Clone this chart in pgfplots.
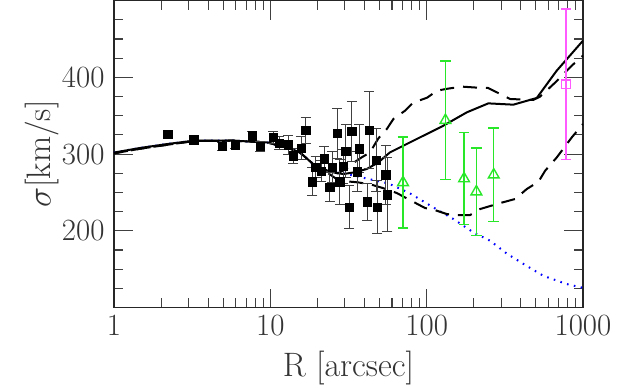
\documentclass[border=0pt]{standalone}
\usepackage{fix-cm}
\usepackage{pgfplots}
\pgfplotsset{compat=1.18}

\definecolor{ptgreen}{RGB}{40,230,40}
\definecolor{ptmag}{RGB}{255,90,255}
\definecolor{ptblue}{RGB}{0,0,255}

% black squares: R, sigma, error
\pgfplotstableread{
x     y     e
2.21  326   4
3.24  319   4
4.93  310   5
5.94  312   4
7.67  324   6
8.63  310   6
10.4  322   8
11.4  314.5 9
13.0  312   12
14.0  298   10
15.7  308   15
16.8  331   17
18.6  264   18
19.5  283   14
21.1  278   14
22.2  294   16
24.0  257   19
24.9  283   20
26.7  327   33
27.7  264   29
29.2  284   22
30.4  304   34
31.9  231   28
33.2  330   39
36.0  277   26
37.0  307   31
41.6  238   24
42.8  331   50
47.7  292   41
48.4  231   35
54.8  273   38
56.1  247   48
}\sqdata

\pgfplotstableread{
x     y     e
70.6  263   59
131.8 344   77
173.5 268   60
208   251   57
268.6 273   61
}\gcdata

\begin{document}
\begin{tikzpicture}
\begin{axis}[
    scale only axis,
    width=469bp, height=307bp,
    xmode=log, log basis x=10,
    xmin=1, xmax=1000,
    ymin=100, ymax=500,
    xtick={1,10,100,1000},
    xticklabels={1,10,100,1000},
    minor xtick={2,3,4,5,6,7,8,9,20,30,40,50,60,70,80,90,200,300,400,500,600,700,800,900},
    ytick={200,300,400},
    minor ytick={125,150,175,225,250,275,325,350,375,425,450,475},
    tick align=inside,
    xtick pos=both, ytick pos=both,
    xticklabel pos=lower, yticklabel pos=left,
    major tick length=19bp,
    minor tick length=9.5bp,
    every tick/.style={black!75, line width=1.1bp},
    axis line style={black!85, line width=1.2bp},
    /pgf/number format/assume math mode=true,
    ticklabel style={font=\fontsize{31}{36}\selectfont, black!80},
    xticklabel style={yshift=-4bp},
    yticklabel style={xshift=-6bp},
    label style={font=\fontsize{34}{40}\selectfont, black!80},
    xlabel={R [arcsec]},
    ylabel={$\sigma$[km/s]},
    xlabel style={yshift=-8bp},
    ylabel style={yshift=-4bp},
    clip=true,
]
\coordinate (bl) at (rel axis cs:0,0);
\coordinate (tr) at (rel axis cs:1,1);

% blue dotted model
\addplot[ptblue, line width=2bp, dash pattern=on 1.6bp off 5.4bp] coordinates {
(1,302)(1.47,308)(2.17,313)(3.24,317.5)(5.77,317.5)(9.49,315.3)(12.7,308.7)
(15.5,302)(18.8,287)(24.0,277)(30.8,274)(56.9,261.8)(78.3,248.8)(110.4,230.5)
(148.3,215.4)(199,197.9)(254.6,187.1)(325,170.5)(415,157)(558,141.4)(788,130.6)(1000,125.8)
};

% upper dashed model
\addplot[black, line width=2bp, dash pattern=on 14bp off 9bp] coordinates {
(1,301)(1.47,307)(2.17,312)(3.24,317)(5.77,317.5)(9.49,315.3)(12.7,308.7)
(15.5,302)(18.8,287)(24.0,277)(27,275)(30.5,280.6)(33.2,287.1)(38.4,295.7)
(43.4,302.2)(49.1,320.5)(55.6,332.7)(61.3,345.8)(72.8,356.6)(81.9,367)
(100.7,373.5)(116.6,382.7)(137,385.3)(168.4,387.9)(210,386.6)(247,386.2)
(295,378.4)(342,371.8)(480,370.5)(531,374.8)(663,393.1)(848,415.3)(1000,428.3)
};

% lower dashed model
\addplot[black, line width=2bp, dash pattern=on 14bp off 9bp, dash phase=6bp] coordinates {
(1,301)(1.47,307)(2.17,312)(3.24,317)(5.77,317.5)(9.49,315.3)(12.7,308.7)
(15.5,302)(18.8,287)(22,279)(25.9,269)(27.9,265.3)(36.6,263.1)(44.5,260.1)
(52.4,255.8)(64.4,249.3)(69.3,245.8)(97.7,229.7)(107.8,228.4)(134.5,221.9)
(152,220.6)(189.6,220.6)(219.6,228.4)(295,236.2)(368,241.5)(437,254.5)
(519,264)(573,278.4)(680,295.7)(848,321.8)(1000,339.2)
};

% solid model
\addplot[black, line width=2bp] coordinates {
(1,302)(1.47,308)(2.17,313)(3.24,317.5)(5.77,317.5)(9.49,315.3)(12.7,308.7)
(15.5,302)(18.8,287)(24.0,277)(29.3,274)(34.8,276.4)(41.4,280.6)(48.8,288.8)
(58.2,302.2)(127.9,337)(180.6,354.4)(248,366.1)(358.6,364.4)(506,373.1)
(679,408.7)(1000,447.8)
};

% black squares with errors
\addplot[only marks, mark=square*, mark size=4.2bp, black,
    error bars/.cd, y dir=both, y explicit,
    error bar style={line width=0.9bp, black!75},
    error mark options={rotate=90, mark size=5bp, line width=0.9bp, black!75}]
    table[x=x, y=y, y error=e] {\sqdata};

% green triangles
\addplot[only marks, mark=triangle, mark size=6.2bp, ptgreen,
    mark options={line width=1.4bp},
    error bars/.cd, y dir=both, y explicit,
    error bar style={line width=1.5bp, ptgreen},
    error mark options={rotate=90, mark size=5.3bp, line width=1.5bp, ptgreen}]
    table[x=x, y=y, y error=e] {\gcdata};

% magenta point
\addplot[only marks, mark=square, mark size=4.3bp, ptmag,
    mark options={line width=1.1bp},
    error bars/.cd, y dir=both, y explicit,
    error bar style={line width=1.6bp, ptmag},
    error mark options={rotate=90, mark size=5bp, line width=1.6bp, ptmag}]
    coordinates {(776,391) +- (0,98)};
\end{axis}
\pgfresetboundingbox
\path[use as bounding box] ([xshift=-114bp,yshift=-80bp]bl) rectangle ([xshift=34bp,yshift=0.6bp]tr);
\end{tikzpicture}
\end{document}
